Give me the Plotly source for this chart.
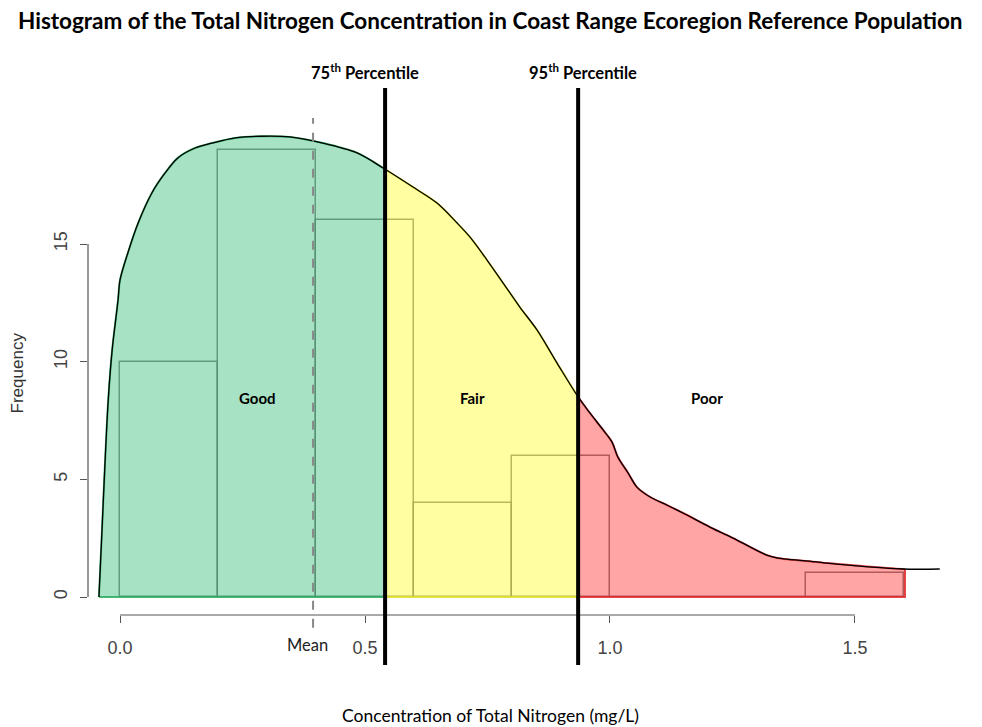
import numpy as np
import plotly.graph_objects as go

# ---- data ----
density_x = [-0.043, -0.037, -0.031, -0.024, -0.016, -0.004, 0.000, 0.016, 0.037, 0.065,
             0.092, 0.118, 0.153, 0.188, 0.235, 0.290, 0.347, 0.414, 0.484, 0.537,
             0.598, 0.647, 0.688, 0.714, 0.749, 0.782, 0.816, 0.851, 0.892, 0.935,
             0.959, 0.986, 1.004, 1.016, 1.037, 1.055, 1.082, 1.116, 1.149, 1.204,
             1.259, 1.320, 1.341, 1.422, 1.443, 1.598, 1.673]
density_y = [0.0, 2.72, 5.52, 8.37, 10.50, 12.62, 13.47, 14.62, 15.89, 17.17,
             18.02, 18.66, 19.08, 19.29, 19.51, 19.58, 19.55, 19.29, 18.87, 18.23,
             17.42, 16.74, 15.89, 15.30, 14.32, 13.34, 12.32, 11.35, 9.94, 8.50,
             7.82, 7.10, 6.59, 5.95, 5.27, 4.67, 4.25, 3.91, 3.57, 2.97,
             2.42, 1.78, 1.66, 1.49, 1.44, 1.19, 1.19]

bin_edges = [0.0, 0.2, 0.4, 0.6, 0.8, 1.0, 1.2, 1.4, 1.6]
counts = [10, 19, 16, 4, 6, 0, 0, 1]

p75 = 0.541
p95 = 0.935
mean_val = 0.394
fill_end = 1.602

x_ticks = [0.0, 0.5, 1.0, 1.5]
x_tick_labels = ["0.0", "0.5", "1.0", "1.5"]
y_ticks = [0, 5, 10, 15]

zones = [("Good", 0.28), ("Fair", 0.72), ("Poor", 1.198)]
zone_label_y = 8.46

# ---- build figure ----
dx = np.array(density_x)
dy = np.array(density_y)


def segment(a, b):
    inner = (dx > a) & (dx < b)
    xs = [a] + list(dx[inner]) + [b]
    ys = [float(np.interp(a, dx, dy))] + list(dy[inner]) + [float(np.interp(b, dx, dy))]
    return xs, ys


fig = go.Figure()

fills = [
    (dx[0], p75, "rgba(120,210,165,0.65)", "rgba(40,170,95,0.85)"),
    (p75, p95, "rgba(255,255,110,0.65)", "rgba(225,225,40,0.85)"),
    (p95, fill_end, "rgba(255,110,110,0.62)", "rgba(225,40,40,0.85)"),
]
for a, b, fc, lc in fills:
    xs, ys = segment(a, b)
    fig.add_trace(go.Scatter(x=xs, y=ys, fill="tozeroy", fillcolor=fc, mode="lines",
                             line=dict(color=lc, width=2, shape="spline", smoothing=0.9),
                             hoverinfo="skip", showlegend=False))
    # coloured bottom / end edge of the filled region
    fig.add_trace(go.Scatter(x=[a, b, b], y=[0, 0, ys[-1]], mode="lines",
                             line=dict(color=lc, width=2), hoverinfo="skip", showlegend=False))

centers = [(bin_edges[i] + bin_edges[i + 1]) / 2 for i in range(len(counts))]
widths = [bin_edges[i + 1] - bin_edges[i] for i in range(len(counts))]
fig.add_trace(go.Bar(x=centers, y=counts, width=widths,
                     marker=dict(color="rgba(0,0,0,0)", line=dict(color="rgba(20,20,20,0.85)", width=1.5)),
                     showlegend=False, hoverinfo="skip"))

fig.add_trace(go.Scatter(x=density_x, y=density_y, mode="lines",
                         line=dict(color="black", width=1.3, shape="spline", smoothing=0.9),
                         showlegend=False, hoverinfo="skip"))

shapes = [
    # axis lines (R style, only between outer ticks)
    dict(type="line", xref="x", yref="paper", x0=x_ticks[0], x1=x_ticks[-1], y0=0, y1=0,
         line=dict(color="#555", width=1.2)),
    dict(type="line", xref="paper", yref="y", x0=0, x1=0, y0=y_ticks[0], y1=y_ticks[-1],
         line=dict(color="#555", width=1.2)),
    # mean line
    dict(type="line", xref="x", yref="paper", x0=mean_val, x1=mean_val, y0=-0.024, y1=0.929,
         line=dict(color="#888", width=2, dash="dash")),
    # percentile lines
    dict(type="line", xref="x", yref="paper", x0=p75, x1=p75, y0=-0.0935, y1=0.985,
         line=dict(color="black", width=4)),
    dict(type="line", xref="x", yref="paper", x0=p95, x1=p95, y0=-0.0935, y1=0.985,
         line=dict(color="black", width=4)),
]

annotations = [
    dict(text="<b>Histogram of the Total Nitrogen Concentration in Coast Range Ecoregion Reference Population</b>",
         xref="paper", yref="paper", x=0.462, y=1, yshift=60, xanchor="center", yanchor="middle",
         borderpad=0, showarrow=False, font=dict(family="Lato", size=22.5, color="black")),
    dict(text="<b>75<sup>th</sup> Percentile</b>", xref="x", yref="paper", x=0.5, y=1, yshift=8,
         yanchor="middle", showarrow=False, font=dict(family="Lato", size=16.5, color="black")),
    dict(text="<b>95<sup>th</sup> Percentile</b>", xref="x", yref="paper", x=0.945, y=1, yshift=8,
         yanchor="middle", showarrow=False, font=dict(family="Lato", size=16.5, color="black")),
    dict(text="Mean", xref="x", yref="paper", x=0.382, y=0, yshift=-30, yanchor="middle",
         showarrow=False, font=dict(family="Lato", size=16.5, color="#222")),
    dict(text="Frequency", xref="paper", yref="y", x=0, xshift=-71, y=9.5, textangle=-90,
         xanchor="center", yanchor="middle", borderpad=0, showarrow=False,
         font=dict(family="Liberation Sans", size=17, color="#333")),
    dict(text="Concentration of Total Nitrogen (mg/L)", xref="paper", yref="paper", x=0.462, y=0,
         yshift=-100, xanchor="center", yanchor="middle", showarrow=False,
         font=dict(family="Lato", size=17.5, color="black")),
]
for name, xz in zones:
    annotations.append(dict(text="<b>" + name + "</b>", x=xz, y=zone_label_y, xref="x", yref="y",
                            showarrow=False, font=dict(family="Lato", size=15, color="black")))

fig.update_layout(
    width=982, height=727,
    margin=dict(l=80, r=30, t=72, b=120),
    paper_bgcolor="white", plot_bgcolor="white",
    xaxis=dict(range=[-0.0653, 1.7143], tickvals=x_ticks, ticktext=x_tick_labels,
               ticks="outside", ticklen=7, tickcolor="#555", tickwidth=1.2,
               ticklabelstandoff=9,
               showgrid=False, zeroline=False, showline=False,
               tickfont=dict(family="Liberation Sans", size=18, color="#444")),
    yaxis=dict(range=[-0.765, 21.97], tickvals=y_ticks, ticks="outside", ticklen=7,
               tickcolor="#555", tickwidth=1.2, tickangle=-90, ticklabelstandoff=6,
               showgrid=False, zeroline=False, showline=False,
               tickfont=dict(family="Liberation Sans", size=18, color="#444")),
    shapes=shapes,
    annotations=annotations,
    bargap=0,
)

fig.write_html("out.html")
